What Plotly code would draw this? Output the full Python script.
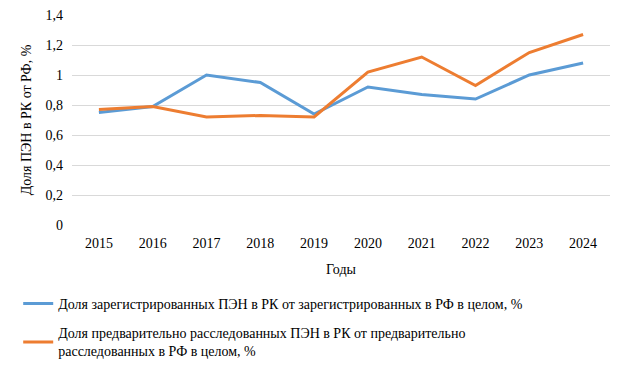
import plotly.graph_objects as go

years = ["2015", "2016", "2017", "2018", "2019", "2020", "2021", "2022", "2023", "2024"]
registered = [0.75, 0.79, 1.00, 0.95, 0.74, 0.92, 0.87, 0.84, 1.00, 1.08]
investigated = [0.77, 0.79, 0.72, 0.73, 0.72, 1.02, 1.12, 0.93, 1.15, 1.27]
name_registered = "Доля зарегистрированных ПЭН в РК от зарегистрированных в РФ в целом, %"
name_investigated = "Доля предварительно расследованных ПЭН в РК от предварительно<br>расследованных в РФ в целом, %"

font_family = "Liberation Serif"

fig = go.Figure()
fig.add_trace(go.Scatter(x=years, y=registered, mode="lines", name=name_registered,
                         legendgroup="a", line=dict(color="#5b9bd5", width=3)))
fig.add_trace(go.Scatter(x=years, y=investigated, mode="lines", name=name_investigated,
                         legendgroup="b", line=dict(color="#ed7d31", width=3)))

fig.update_layout(
    width=624, height=367,
    margin=dict(l=72, r=14, t=15, b=142, autoexpand=False),
    paper_bgcolor="white", plot_bgcolor="white",
    separators=", ",
    font=dict(family=font_family, size=14, color="black"),
    xaxis=dict(
        title=dict(text="Годы", font=dict(size=14, family=font_family), standoff=14),
        range=[-0.5, 9.5], automargin=False,
        showgrid=False, showline=False, zeroline=False,
        ticks="", ticklabelstandoff=8, tickfont=dict(size=14, family=font_family),
    ),
    yaxis=dict(
        title=dict(text="Доля ПЭН в РК от РФ, %", font=dict(size=14, family=font_family), standoff=10),
        range=[0, 1.4], dtick=0.2, showgrid=True, gridcolor="#d9d9d9", gridwidth=1,
        automargin=False,
        showline=False, zeroline=False, ticks="", ticklabelstandoff=8,
        tickfont=dict(size=14, family=font_family),
    ),
    legend=dict(
        x=-0.100, y=-0.30, xanchor="left", yanchor="top",
        traceorder="grouped",
        font=dict(size=14, family=font_family), tracegroupgap=8, itemwidth=30,
        bgcolor="rgba(0,0,0,0)",
    ),
    showlegend=True,
)

fig.write_html("out.html", config={"displayModeBar": False},
               post_script="document.body.style.margin='0';")
